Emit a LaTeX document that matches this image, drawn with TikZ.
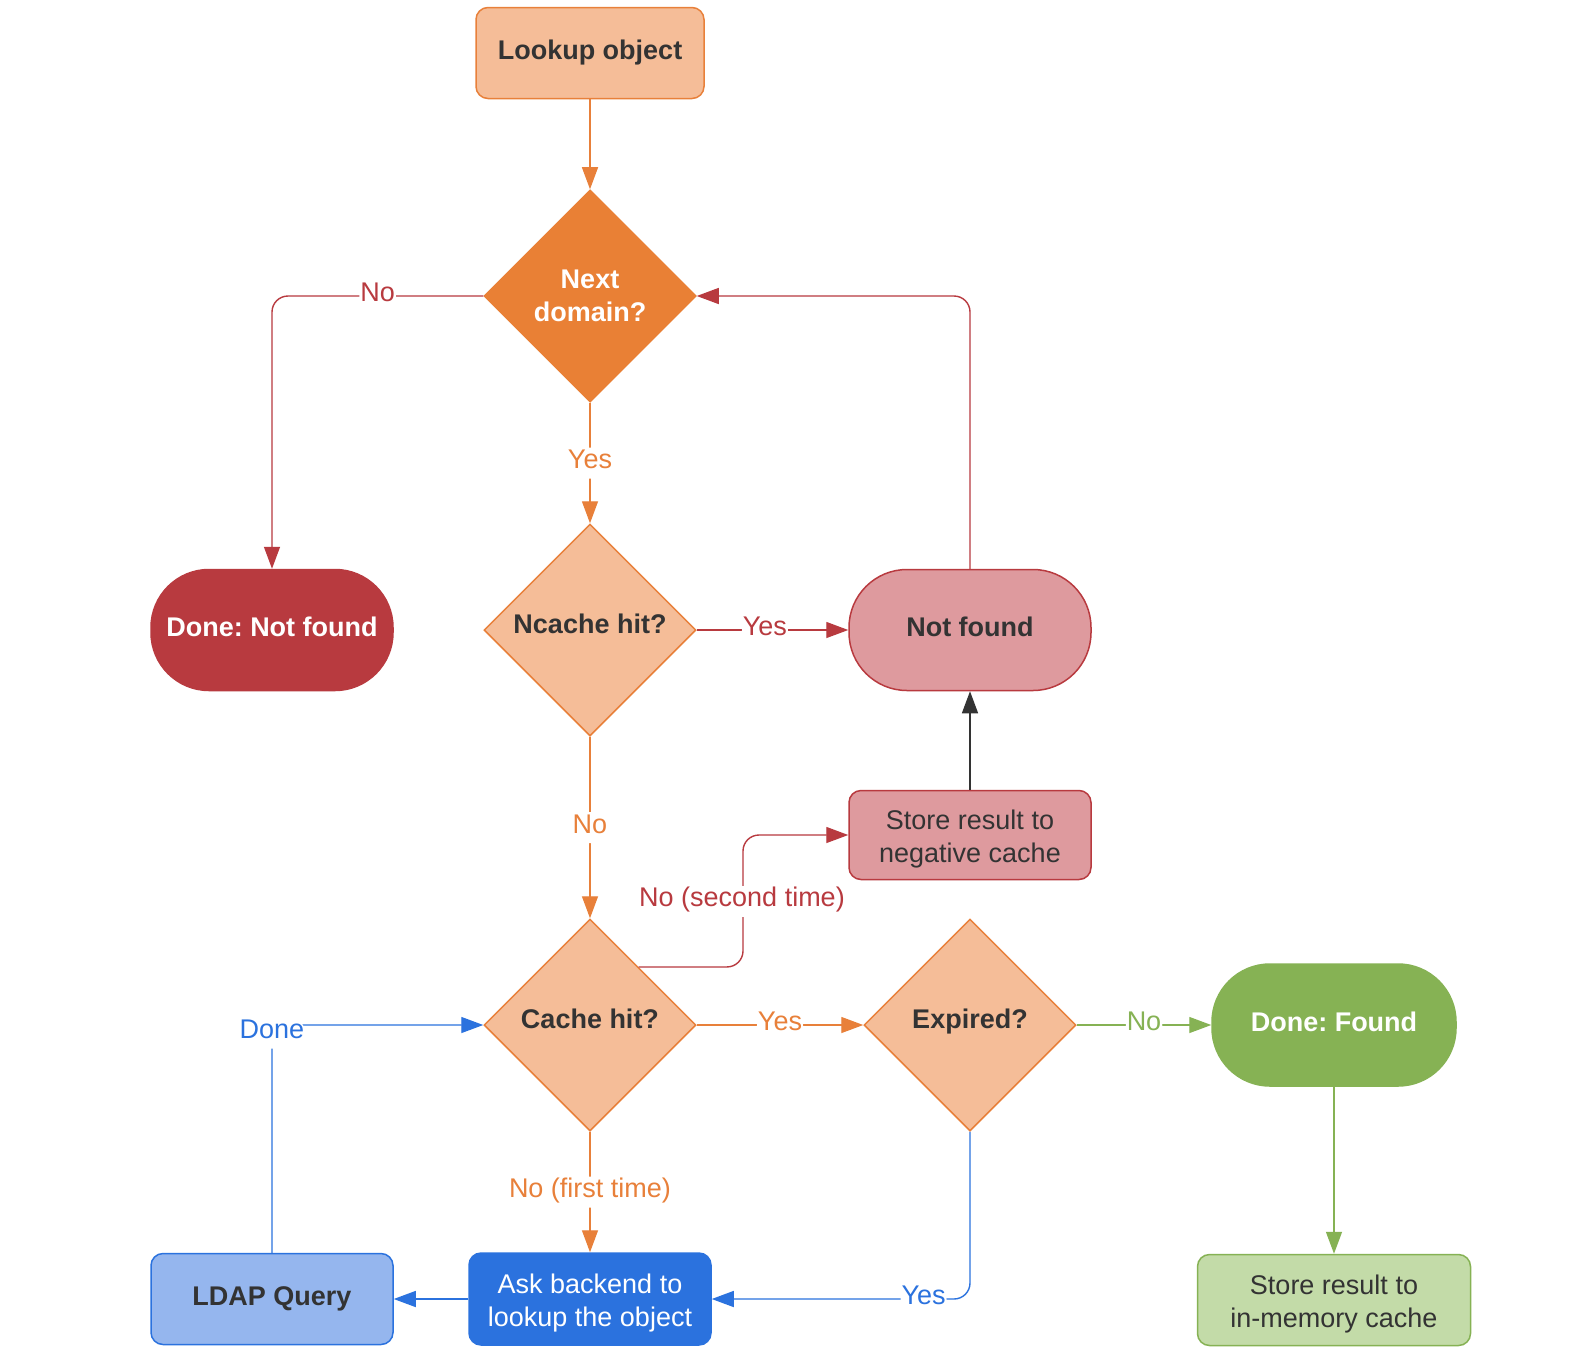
\documentclass[tikz,border=0pt]{standalone}
\usepackage{fontspec}
\setmainfont{Liberation Sans}
\frenchspacing
\usetikzlibrary{shapes.geometric,arrows.meta}
\definecolor{tdark}{HTML}{333333}
\definecolor{oline}{HTML}{E8803A}
\definecolor{ofill}{HTML}{E98035}
\definecolor{lofill}{HTML}{F5BD98}
\definecolor{rline}{HTML}{B83A3F}
\definecolor{pfill}{HTML}{DE9A9E}
\definecolor{gline}{HTML}{86B254}
\definecolor{lgfill}{HTML}{C3DBA8}
\definecolor{bline}{HTML}{2B72DE}
\definecolor{lbfill}{HTML}{95B6EE}
\newcommand{\downstrut}{\rule{0pt}{28pt}}
\tikzset{
  every node/.style={font=\fontsize{27}{33}\selectfont\frenchspacing, text=tdark},
  base/.style={draw, line width=1.5pt, align=center, inner sep=4pt},
  boxnode/.style={base, rounded corners=12pt, minimum width=242pt, minimum height=90pt},
  stadnode/.style={base, rounded corners=58pt, minimum width=242pt, minimum height=121pt},
  dianode/.style={base, diamond, minimum width=212pt, minimum height=212pt, inner sep=0pt},
  bf/.style={font=\fontsize{27}{33}\selectfont\bfseries\frenchspacing},
  oneline/.style={text height=19.5pt, text depth=7pt},
  onelinedia/.style={text height=19.5pt, text depth=12pt},
  conn/.style={line width=1.4pt, rounded corners=16pt, -{Triangle[length=22pt,width=16pt]}},
  lbl/.style={fill=white, inner sep=1pt, text height=20pt, text depth=9pt, font=\fontsize{27}{33}\selectfont},
}
\begin{document}
\begin{tikzpicture}[x=1pt,y=-1pt]
\useasboundingbox[fill=white] (0,0) rectangle (1596,1368);
% nodes
\node[boxnode, bf, oneline, minimum width=228pt, minimum height=91pt, fill=lofill, draw=oline] (lookup) at (590,53) {Lookup object};
\node[dianode, bf, fill=ofill, draw=ofill, text=white] (nd) at (590,296) {Next\\domain?};
\node[dianode, bf, onelinedia, fill=lofill, draw=oline] (nc) at (590,630) {Ncache hit?};
\node[stadnode, bf, oneline, fill=pfill, draw=rline] (nf) at (970,630) {Not found};
\node[stadnode, bf, oneline, fill=rline, draw=rline, text=white] (dnf) at (272,630) {Done: Not found};
\node[boxnode, minimum height=89pt, fill=pfill, draw=rline] (neg) at (970,835) {\downstrut Store result to\\negative cache};
\node[dianode, bf, onelinedia, fill=lofill, draw=oline] (cache) at (590,1025) {Cache hit?};
\node[dianode, bf, onelinedia, fill=lofill, draw=oline] (exp) at (970,1025) {Expired?};
\node[stadnode, bf, oneline, minimum width=244pt, minimum height=122pt, fill=gline, draw=gline, text=white] (found) at (1334,1025) {Done: Found};
\node[boxnode, minimum width=273pt, minimum height=91pt, fill=lgfill, draw=gline] (mem) at (1334,1300) {\downstrut Store result to\\in-memory cache};
\node[boxnode, bf, oneline, minimum height=91pt, fill=lbfill, draw=bline] (ldap) at (272,1299) {LDAP Query};
\node[boxnode, minimum height=92pt, fill=bline, draw=bline, text=white] (ask) at (590,1299) {\downstrut Ask backend to\\lookup the object};
\coordinate (c1) at (743,835);
% connectors
\draw[conn, oline] (lookup) -- (nd);
\draw[conn, rline] (nd.west) -| node[lbl, pos=0.25, text=rline] {No} (dnf.north);
\draw[conn, oline] (nd.south) -- node[lbl, text=oline] {Yes} (nc.north);
\draw[conn, rline] (nc.east) -- node[lbl, pos=0.45, text=rline] {Yes} (nf.west);
\draw[conn, rline] (nf.north) |- (nd.east);
\draw[conn, oline] (nc.south) -- node[lbl, text=oline] {No} (cache.north);
\draw[conn, tdark] (neg.north) -- (nf.south);
\draw[conn, rline] (cache.50) -| (c1) -- (neg.west);
\node[lbl, text=rline] (l2) at (742,901) {No (second time)};
\draw[conn, oline] (cache.east) -- node[lbl, text=oline] {Yes} (exp.west);
\draw[conn, gline] (exp.east) -- node[lbl, text=gline] {No} (found.west);
\draw[conn, gline] (found.south) -- (mem.north);
\draw[conn, bline] (exp.south) |- node[lbl, pos=0.59, text=bline] {Yes} (ask.east);
\draw[conn, oline] (cache.south) -- node[lbl, text=oline] {No (first time)} (ask.north);
\draw[conn, bline] (ask.west) -- (ldap.east);
\draw[conn, bline] (ldap.north) |- node[lbl, pos=0.5, text=bline, yshift=-8pt] {Done} (cache.west);
\end{tikzpicture}
\end{document}
